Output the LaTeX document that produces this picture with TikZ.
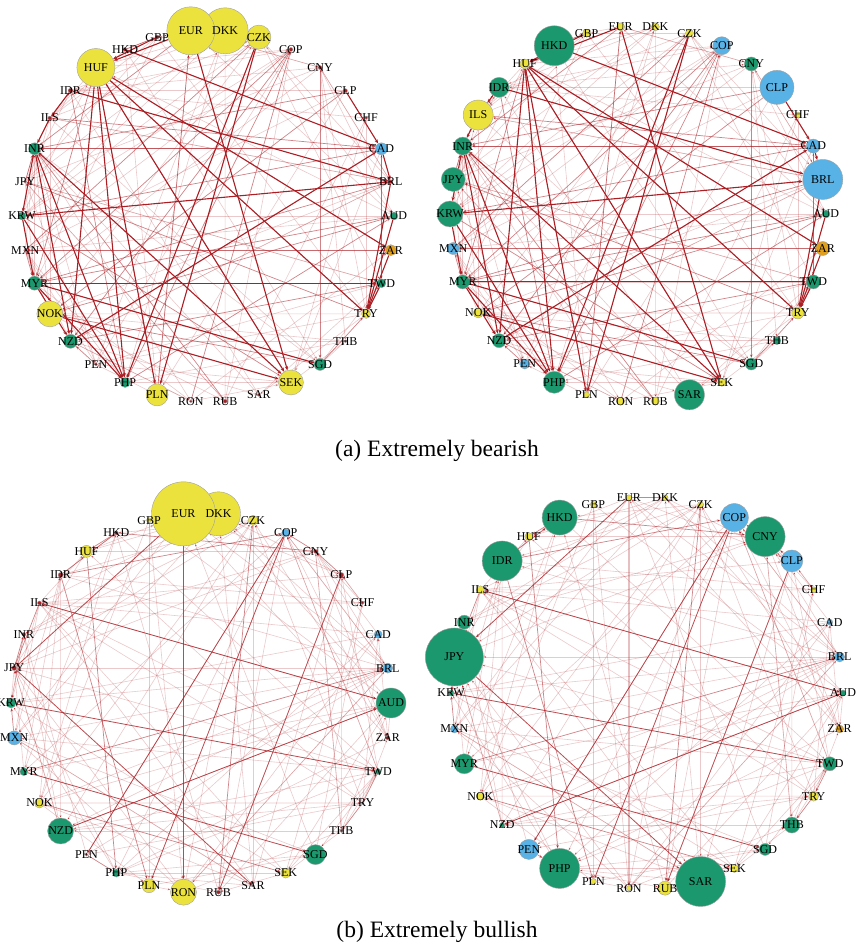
\documentclass[tikz,border=0pt]{standalone}
\usepackage{fontspec}
\setmainfont{Liberation Serif}
\usetikzlibrary{arrows.meta,calc}

\definecolor{curyellow}{RGB}{236,226,62}
\definecolor{curgreen}{RGB}{27,152,110}
\definecolor{curblue}{RGB}{88,178,230}
\definecolor{curorange}{RGB}{224,160,30}
\definecolor{linkred}{RGB}{170,30,36}

\pgfdeclarelayer{background}
\pgfdeclarelayer{foreground}
\pgfsetlayers{background,main,foreground}

\def\curnames{{"AUD","BRL","CAD","CHF","CLP","CNY","COP","CZK","DKK","EUR","GBP","HKD","HUF","IDR","ILS","INR","JPY","KRW","MXN","MYR","NOK","NZD","PEN","PHP","PLN","RON","RUB","SAR","SEK","SGD","THB","TRY","TWD","ZAR"}}

% one ring of currencies: prefix, centre, radius, name/colour/diameter list
\newcommand\curring[4]{%
  \foreach \cname/\ccol/\csize [count=\k from 0] in #4 {
    \node[cur, fill=\ccol, minimum size=\csize] (#1-\cname) at ($(#2)+({\k*360/34}:#3)$) {};
    \begin{pgfonlayer}{foreground}
      \node[curlabel] (#1-\cname-t) at (#1-\cname) {\cname};
    \end{pgfonlayer}
  }}

% links: prefix, seed, number of faint links, medium list, strong list, strong style
\newcommand\curlinks[6]{%
  \begin{pgfonlayer}{background}
    \pgfmathsetseed{#2}
    \foreach \i in {1,...,#3} {
      \pgfmathtruncatemacro\ia{random(0,33)}
      \pgfmathtruncatemacro\ib{mod(\ia+random(1,33),34)}
      \pgfmathsetmacro\ea{\curnames[\ia]}
      \pgfmathsetmacro\eb{\curnames[\ib]}
      \draw[faint] (#1-\ea) -- (#1-\eb);
    }
    \foreach \u/\v in #4 \draw[medium] (#1-\u) -- (#1-\v);
    \foreach \u/\v in #5 \draw[#6] (#1-\u) -- (#1-\v);
  \end{pgfonlayer}}

\def\ringa{AUD/curgreen/8,BRL/linkred/4,CAD/curblue/12,CHF/linkred/3,CLP/linkred/4,CNY/linkred/4,COP/linkred/4,CZK/curyellow/24,DKK/curyellow/46,EUR/curyellow/48,GBP/linkred/4,HKD/linkred/4,HUF/curyellow/38,IDR/linkred/5,ILS/linkred/4,INR/curgreen/12,JPY/linkred/3,KRW/curgreen/8,MXN/linkred/3,MYR/curgreen/14,NOK/curyellow/26,NZD/curgreen/14,PEN/linkred/3,PHP/curgreen/10,PLN/curyellow/22,RON/linkred/3,RUB/linkred/4,SAR/linkred/3,SEK/curyellow/25,SGD/curgreen/12,THB/linkred/3,TRY/curyellow/9,TWD/curgreen/9,ZAR/curorange/11}
\def\ringb{AUD/curgreen/8,BRL/curblue/40,CAD/curblue/14,CHF/curyellow/6,CLP/curblue/34,CNY/curgreen/14,COP/curblue/18,CZK/curyellow/8,DKK/curyellow/8,EUR/curyellow/8,GBP/curyellow/8,HKD/curgreen/40,HUF/curyellow/10,IDR/curgreen/20,ILS/curyellow/30,INR/curgreen/18,JPY/curgreen/24,KRW/curgreen/26,MXN/curblue/12,MYR/curgreen/14,NOK/curyellow/10,NZD/curgreen/14,PEN/curblue/10,PHP/curgreen/22,PLN/curyellow/6,RON/curyellow/8,RUB/curyellow/8,SAR/curgreen/30,SEK/curyellow/8,SGD/curgreen/12,THB/curgreen/8,TRY/curyellow/12,TWD/curgreen/14,ZAR/curorange/14}
\def\ringc{AUD/curgreen/30,BRL/curblue/10,CAD/curblue/8,CHF/linkred/3,CLP/linkred/5,CNY/linkred/4,COP/curblue/8,CZK/curyellow/10,DKK/curyellow/44,EUR/curyellow/64,GBP/curyellow/5,HKD/linkred/4,HUF/curyellow/12,IDR/linkred/5,ILS/linkred/4,INR/linkred/4,JPY/linkred/5,KRW/curgreen/10,MXN/curblue/14,MYR/curgreen/8,NOK/curyellow/10,NZD/curgreen/26,PEN/linkred/3,PHP/curgreen/8,PLN/curyellow/14,RON/curyellow/26,RUB/linkred/4,SAR/linkred/2,SEK/curyellow/10,SGD/curgreen/20,THB/linkred/3,TRY/linkred/3,TWD/curgreen/6,ZAR/linkred/4}
\def\ringd{AUD/curgreen/6,BRL/curblue/10,CAD/curblue/6,CHF/curyellow/6,CLP/curblue/22,CNY/curgreen/40,COP/curblue/28,CZK/curyellow/6,DKK/curyellow/6,EUR/curyellow/6,GBP/curyellow/6,HKD/curgreen/35,HUF/curyellow/8,IDR/curgreen/40,ILS/curyellow/8,INR/curgreen/14,JPY/curgreen/58,KRW/curgreen/6,MXN/curblue/8,MYR/curgreen/20,NOK/curyellow/8,NZD/curgreen/5,PEN/curblue/20,PHP/curgreen/40,PLN/curyellow/6,RON/curyellow/5,RUB/curyellow/14,SAR/curgreen/50,SEK/curyellow/8,SGD/curgreen/12,THB/curgreen/16,TRY/curyellow/10,TWD/curgreen/14,ZAR/curorange/8}

\def\bearstrong{HUF/SEK,HUF/PLN,HUF/PHP,HUF/ZAR,HUF/NZD,HKD/CAD,NZD/CAD,CLP/CAD,CAD/BRL,BRL/TRY,ZAR/TRY,TWD/TRY,IDR/BRL,IDR/ILS,ILS/INR,INR/KRW,KRW/MYR,MYR/NZD,INR/PHP,INR/SEK,KRW/BRL,MYR/TWD,NOK/SEK,CZK/PLN,EUR/SEK,MYR/SGD,MYR/PHP,EUR/HUF,GBP/HUF,CZK/PHP,HUF/TRY,INR/NZD,KRW/PHP,AUD/TRY}
\def\bearmedium{COP/PHP,COP/NZD,COP/MYR,CNY/SGD,CLP/INR,CAD/INR,CAD/KRW,BRL/MYR,AUD/NOK,ZAR/MXN,TWD/NZD,TRY/JPY,RUB/INR,RON/COP,CZK/MXN,EUR/INR,HKD/GBP,IDR/PHP,PLN/EUR,SGD/TRY,SGD/NOK,PEN/NZD,PHP/AUD,HUF/MYR,KRW/SEK,ILS/CAD,JPY/INR,MXN/MYR,CLP/NOK,AUD/MYR}
\def\bullstrong{EUR/RON,KRW/TWD,JPY/SAR,MYR/SGD,ILS/AUD,COP/PLN,COP/PEN,EUR/JPY,NZD/AUD}
\def\bullmedium{IDR/COP,HKD/CNY,HUF/PHP,IDR/PLN,NOK/SEK,EUR/DKK,MYR/BRL,CLP/RUB,CZK/RUB,TWD/TRY,TRY/THB,HKD/HUF,IDR/HKD,JPY/INR,ILS/JPY,PEN/PHP,MXN/KRW,CNY/COP,CLP/CNY}

\begin{document}
\begin{tikzpicture}[x=1pt, y=1pt,
  cur/.style = {circle, draw=gray!75, line width=0.4pt, inner sep=0pt},
  curlabel/.style = {font=\fontsize{12}{12}\selectfont, inner sep=0pt},
  caption/.style = {font=\fontsize{23.5}{27}\selectfont},
  faint/.style = {draw=linkred, draw opacity=0.24, line width=0.6pt,
    -{Stealth[length=3pt, width=2.4pt]}},
  medium/.style = {draw=linkred, draw opacity=0.55, line width=0.7pt,
    -{Stealth[length=3.5pt, width=2.8pt]}},
  strong/.style = {draw=linkred, line width=1.1pt,
    -{Stealth[length=4pt, width=3.2pt]}},
  bullmain/.style = {draw=linkred, draw opacity=0.8, line width=0.8pt,
    -{Stealth[length=3.5pt, width=2.8pt]}}]
  \useasboundingbox (0,0) rectangle (855,944);

  % (a) extremely bearish
  \curring{a}{208,728}{186}{\ringa}
  \curlinks{a}{11}{120}{\bearmedium}{\bearstrong}{strong}
  \curring{b}{638,730}{188}{\ringb}
  \curlinks{b}{11}{120}{\bearmedium}{\bearstrong}{strong}
  \node[caption] (capa) at (437,493) {(a) Extremely bearish};

  % (b) extremely bullish
  \curring{c}{201,241}{190}{\ringc}
  \curlinks{c}{23}{140}{\bullmedium}{\bullstrong}{bullmain}
  \curring{d}{647,251}{196}{\ringd}
  \curlinks{d}{23}{140}{\bullmedium}{\bullstrong}{bullmain}
  \node[caption] (capb) at (437,12) {(b) Extremely bullish};
\end{tikzpicture}
\end{document}
